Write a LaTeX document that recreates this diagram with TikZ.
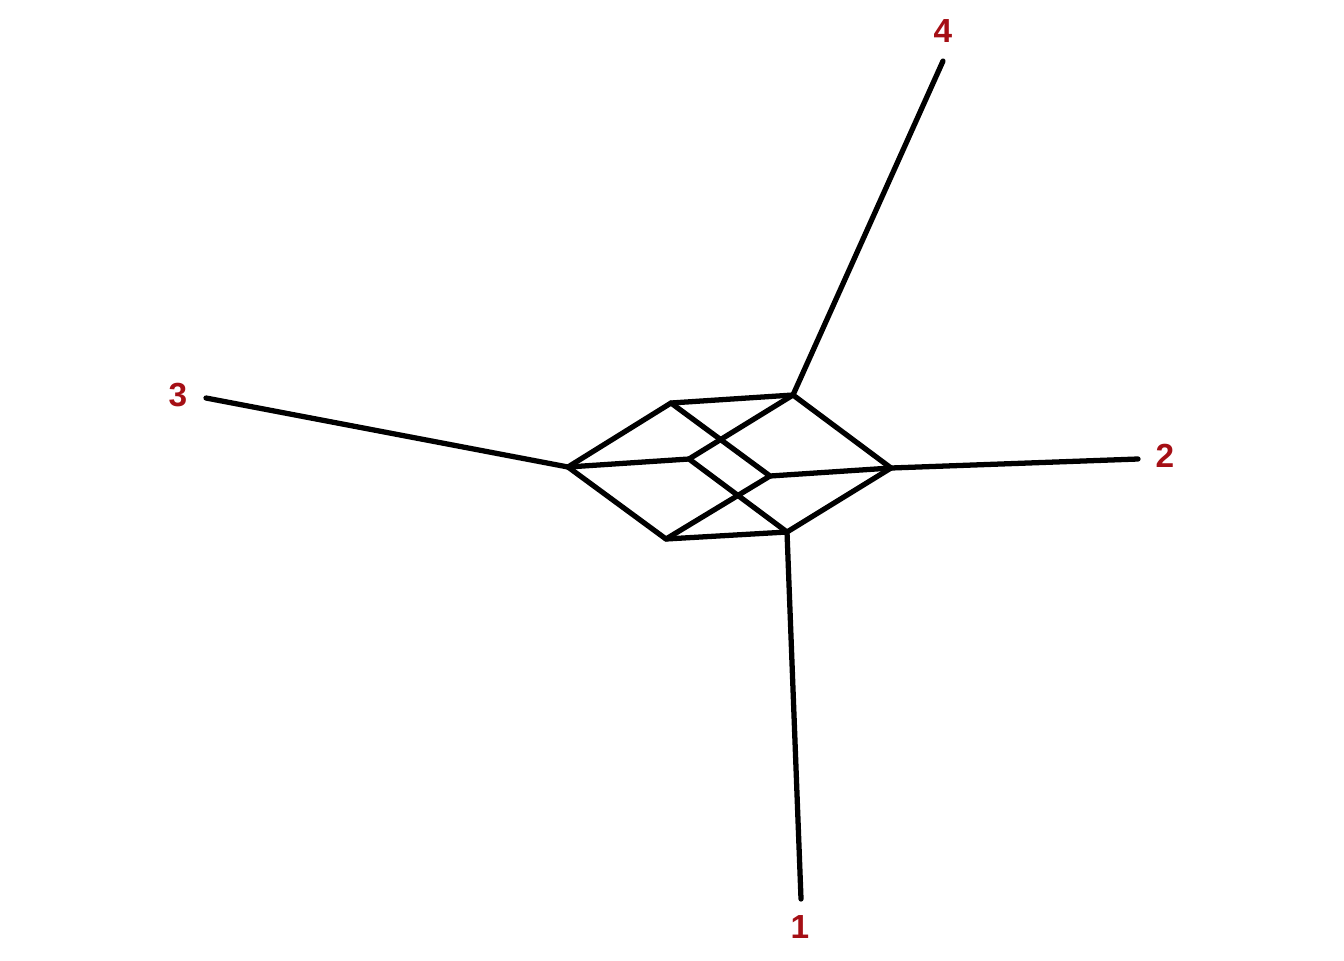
\documentclass[tikz,border=0pt]{standalone}
\usepackage{fontspec}
\setmainfont{Liberation Sans}
\usepackage{tikz}
\definecolor{TaxonRed}{RGB}{165,15,21}

\begin{document}
\begin{tikzpicture}[x=0.02cm,y=-0.02cm,line cap=round,line join=round,
  split/.style={draw=black,line width=3pt},
  taxon/.style={text=TaxonRed,font=\fontsize{19}{19}\selectfont\bfseries,inner sep=0pt}]
\useasboundingbox (0,0) rectangle (1344,960);
% inner vertices of the network
\coordinate (A) at (671,403);
\coordinate (B) at (793,395);
\coordinate (C) at (568,467);
\coordinate (D) at (689,459);
\coordinate (E) at (770,476);
\coordinate (F) at (891,468);
\coordinate (G) at (666,539);
\coordinate (H) at (787,532);
% leaf ends
\coordinate (l1) at (801,899);
\coordinate (l2) at (1138,459);
\coordinate (l3) at (206,398);
\coordinate (l4) at (943,61);
\node[taxon] (t1) at (800,927) {1};
\node[taxon] (t2) at (1165,456) {2};
\node[taxon] (t3) at (178,395) {3};
\node[taxon] (t4) at (943,31) {4};
% splits
\draw[split] (C)--(A)--(B);
\draw[split] (C)--(D)--(B);
\draw[split] (C)--(G)--(H);
\draw[split] (A)--(E)--(F);
\draw[split] (D)--(H)--(F);
\draw[split] (G)--(E);
\draw[split] (B)--(F);
% pendant edges
\draw[split] (C)--(l3);
\draw[split] (B)--(l4);
\draw[split] (F)--(l2);
\draw[split] (H)--(l1);
\end{tikzpicture}
\end{document}
